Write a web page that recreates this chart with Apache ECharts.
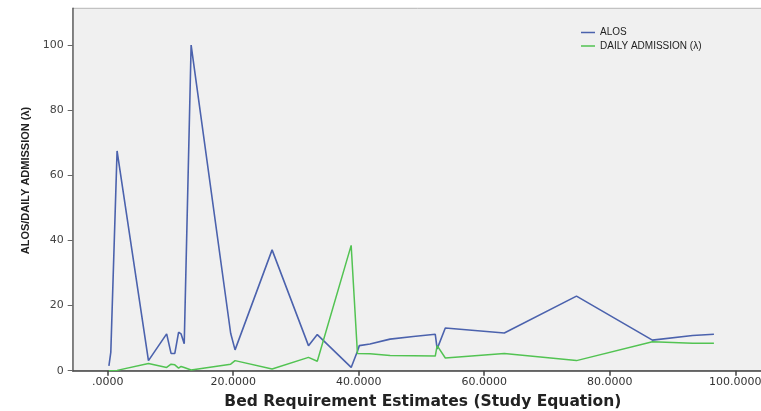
<!DOCTYPE html>
<html>
<head>
<meta charset="utf-8">
<script src="https://cdn.jsdelivr.net/npm/echarts@6/dist/echarts.min.js"></script>
<style>
html,body{margin:0;padding:0;background:#fff;}
#chart{width:761px;height:411px;}
</style>
</head>
<body>
<div id="chart"></div>
<script>
var xValues = [0.2, 0.5, 1.5, 6.5, 9.4, 10.1, 10.7, 11.3, 11.7, 12.2, 13.3, 19.6, 20.3, 26.2, 32.0, 33.4, 38.8, 39.8, 40.1, 41.8, 45.0, 48.7, 52.2, 52.5, 53.8, 63.2, 74.7, 86.8, 93.2, 96.6];
var alosValues = [1.5, 5.6, 67.5, 3.1, 11.3, 5.3, 5.3, 11.8, 11.3, 8.3, 100, 11.5, 6.4, 37.1, 7.7, 11.1, 1.0, 6.0, 7.7, 8.2, 9.7, 10.5, 11.2, 6.7, 13.1, 11.6, 22.9, 9.4, 10.8, 11.2];
var admissionValues = [0, 0, 0.1, 2.2, 1.0, 2.0, 1.8, 0.8, 1.3, 1.0, 0.2, 2.0, 3.1, 0.5, 4.1, 2.9, 38.5, 5.3, 5.4, 5.2, 4.7, 4.6, 4.5, 7.7, 3.9, 5.3, 3.1, 8.9, 8.4, 8.4];
var xTickValues = [0, 20, 40, 60, 80, 100];
var xTickLabels = ['.0000', '20.0000', '40.0000', '60.0000', '80.0000', '100.0000'];
var yTickValues = [0, 20, 40, 60, 80, 100];
var seriesNames = ['ALOS', 'DAILY ADMISSION (\u03bb)'];
var xTitle = 'Bed Requirement Estimates (Study Equation)';
var yTitle = 'ALOS/DAILY ADMISSION (\u03bb)';

function pairs(ys) { return xValues.map(function (x, i) { return [x, ys[i]]; }); }

var chart = echarts.init(document.getElementById('chart'), null, {renderer: 'canvas'});
chart.setOption({
  animation: false,
  backgroundColor: '#ffffff',
  textStyle: {fontFamily: 'DejaVu Sans, sans-serif'},
  grid: {left: 72.7, right: -2, top: 8.3, bottom: 40.3, outerBoundsMode: 'none', containLabel: false, show: true, backgroundColor: '#f0f0f0', borderColor: '#b5b5b5', borderWidth: 1},
  legend: {
    orient: 'vertical', left: 581, top: 27.5, itemWidth: 14, itemHeight: 1.5, itemGap: 3.5, padding: 0, icon: 'rect',
    textStyle: {fontSize: 10, color: '#222', fontFamily: 'Liberation Sans, Arial, sans-serif'},
    data: seriesNames
  },
  xAxis: {
    type: 'value', min: -5.57, max: 104.42,
    name: xTitle, nameLocation: 'middle', nameGap: 23,
    nameTextStyle: {fontSize: 15.5, fontWeight: 'bold', color: '#222', fontFamily: 'DejaVu Sans, sans-serif', padding: [0, 0, 0, 10]},
    axisLine: {onZero: false, lineStyle: {color: '#444', width: 1.5}},
    axisTick: {show: true, length: 5, customValues: xTickValues, lineStyle: {color: '#444', width: 1.5}},
    axisLabel: {
      customValues: xTickValues, fontSize: 11, color: '#333', margin: 6, fontFamily: 'DejaVu Sans, sans-serif',
      formatter: function (v) { var i = xTickValues.indexOf(v); return i >= 0 ? xTickLabels[i] : ''; }
    },
    splitLine: {show: false}
  },
  yAxis: {
    type: 'value', min: 0, max: 111.3,
    name: yTitle, nameLocation: 'middle', nameGap: 40,
    nameTextStyle: {fontSize: 11, fontWeight: 'bold', color: '#222', fontFamily: 'Liberation Sans Narrow, Liberation Sans, Arial', padding: [0, 0, 0, 18]},
    axisLine: {show: true, onZero: false, lineStyle: {color: '#666', width: 1.5}},
    axisTick: {show: true, length: 5, customValues: yTickValues, lineStyle: {color: '#666'}},
    axisLabel: {customValues: yTickValues, fontSize: 11, color: '#444', margin: 9, fontFamily: 'DejaVu Sans, sans-serif'},
    splitLine: {show: false}
  },
  series: [
    {name: seriesNames[0], type: 'line', data: pairs(alosValues), symbol: 'none', lineStyle: {color: '#4b62ad', width: 1.6}, itemStyle: {color: '#4b62ad'}},
    {name: seriesNames[1], type: 'line', data: pairs(admissionValues), symbol: 'none', lineStyle: {color: '#52c352', width: 1.5}, itemStyle: {color: '#52c352'}}
  ]
});
</script>
</body>
</html>
